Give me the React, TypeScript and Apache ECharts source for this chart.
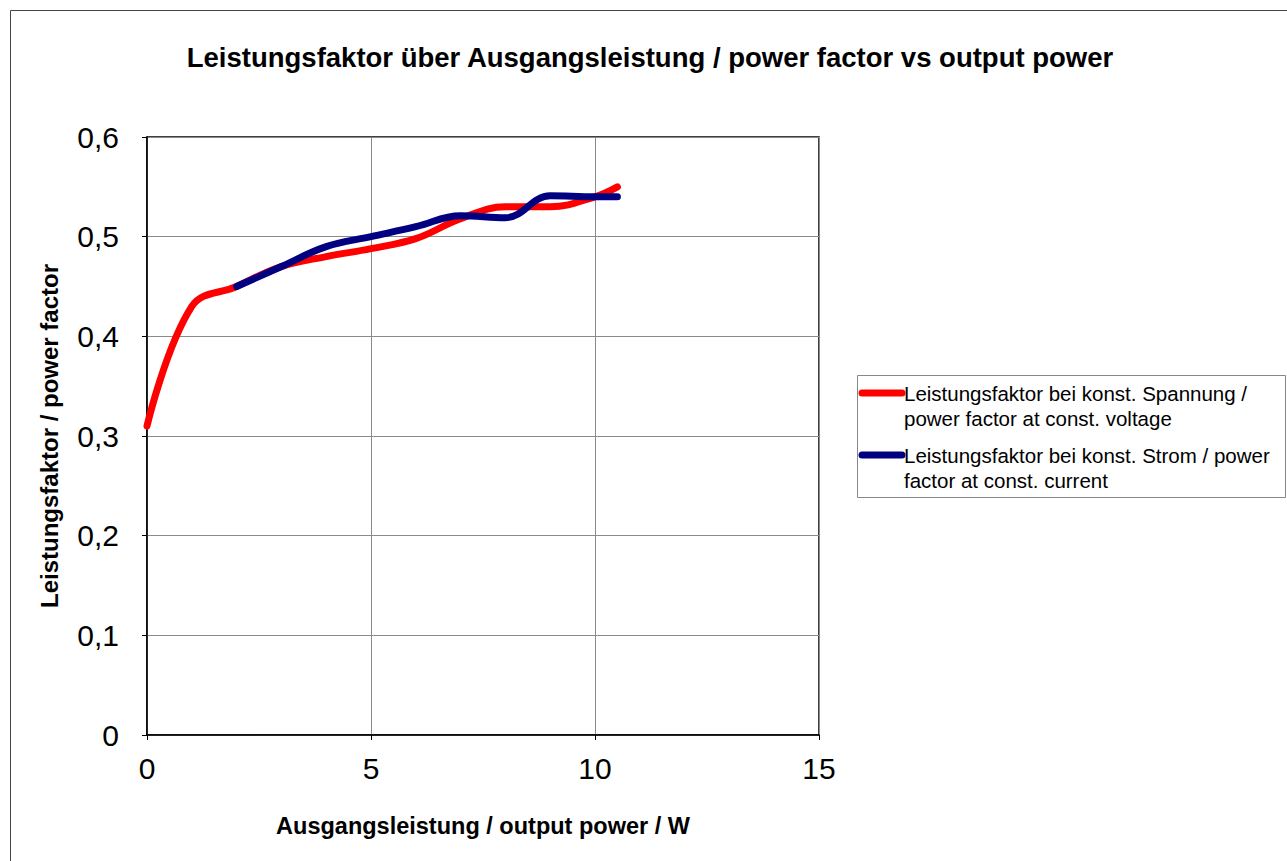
import React, { useEffect, useRef } from "react";
import * as echarts from "echarts";

const titleText = "Leistungsfaktor über Ausgangsleistung / power factor vs output power";
const xAxisName = "Ausgangsleistung / output power / W";
const yAxisName = "Leistungsfaktor / power factor";

const voltageX = [0, 1, 2, 3, 4, 5, 6, 7, 8, 9, 10, 10.5];
const voltageY = [0.31, 0.43, 0.45, 0.47, 0.48, 0.488, 0.498, 0.518, 0.53, 0.53, 0.54, 0.55];
const currentX = [2, 3, 4, 5, 6, 7, 8, 9, 10, 10.5];
const currentY = [0.45, 0.47, 0.49, 0.5, 0.51, 0.521, 0.519, 0.541, 0.54, 0.54];

const legendVoltage = ["Leistungsfaktor bei konst. Spannung /", "power factor at const. voltage"];
const legendCurrent = ["Leistungsfaktor bei konst. Strom / power", "factor at const. current"];

const FONT = "'Liberation Sans', Arial, sans-serif";

export default function App() {
  const ref = useRef<HTMLDivElement>(null);
  useEffect(() => {
    if (!ref.current) return;
    const chart = echarts.init(ref.current, undefined, { renderer: "svg" });
    const pair = (xs: number[], ys: number[]) => xs.map((x, i) => [x, ys[i]]);
    chart.setOption({
      animation: false,
      backgroundColor: "#fff",
      textStyle: { fontFamily: FONT },
      title: {
        text: titleText,
        left: 645,
        textAlign: "center",
        top: 38,
        textStyle: { fontFamily: FONT, fontSize: 27.5, fontWeight: "bold", color: "#000" },
      },
      grid: {
        left: 147,
        top: 137,
        width: 672,
        height: 598,
        show: true,
        borderColor: "#000",
        borderWidth: 1.5,
        containLabel: false,
      },
      xAxis: {
        type: "value",
        min: 0,
        max: 15,
        interval: 5,
        name: xAxisName,
        nameLocation: "middle",
        nameGap: 79,
        nameTextStyle: { fontFamily: FONT, fontSize: 23.5, fontWeight: "bold", color: "#000" },
        axisLine: { show: true, lineStyle: { color: "#000", width: 1.5 } },
        axisTick: { show: true, length: 5, lineStyle: { color: "#000" } },
        axisLabel: { fontFamily: FONT, fontSize: 30, color: "#000", margin: 18 },
        splitLine: { show: true, lineStyle: { color: "#8a8a8a", width: 1 } },
      },
      yAxis: {
        type: "value",
        min: 0,
        max: 0.6,
        interval: 0.1,
        name: yAxisName,
        nameLocation: "middle",
        nameGap: 86,
        nameTextStyle: { fontFamily: FONT, fontSize: 24, fontWeight: "bold", color: "#000" },
        axisLine: { show: true, lineStyle: { color: "#000", width: 1.5 } },
        axisTick: { show: true, length: 5, lineStyle: { color: "#000" } },
        axisLabel: {
          fontFamily: FONT,
          fontSize: 30,
          color: "#000",
          margin: 28,
          formatter: (v: number) => (Math.round(v * 10) / 10).toString().replace(".", ","),
        },
        splitLine: { show: true, lineStyle: { color: "#8a8a8a", width: 1 } },
      },
      series: [
        {
          name: legendVoltage.join(" "),
          type: "line",
          data: pair(voltageX, voltageY),
          smooth: 0.4,
          showSymbol: false,
          symbol: "none",
          lineStyle: { color: "#ff0000", width: 7, cap: "round" },
          itemStyle: { color: "#ff0000" },
        },
        {
          name: legendCurrent.join(" "),
          type: "line",
          data: pair(currentX, currentY),
          smooth: 0.4,
          showSymbol: false,
          symbol: "none",
          lineStyle: { color: "#000080", width: 7, cap: "round" },
          itemStyle: { color: "#000080" },
        },
      ],
      graphic: [
        {
          type: "rect",
          shape: { x: 10.5, y: 10.5, width: 1400, height: 1000 },
          style: { fill: "none", stroke: "#444", lineWidth: 1 },
          silent: true,
        },
        {
          type: "rect",
          shape: { x: 857.5, y: 375.5, width: 428, height: 122 },
          style: { fill: "#fff", stroke: "#888", lineWidth: 1 },
          silent: true,
        },
        {
          type: "line",
          shape: { x1: 862, y1: 393, x2: 902, y2: 393 },
          style: { stroke: "#ff0000", lineWidth: 7, lineCap: "round" },
        },
        {
          type: "text",
          x: 904,
          y: 393,
          style: {
            text: legendVoltage.join("\n"),
            fontFamily: FONT,
            fontSize: 20.5,
            lineHeight: 25,
            fill: "#000",
            verticalAlign: "top",
            y: -12.5,
          },
        },
        {
          type: "line",
          shape: { x1: 862, y1: 455, x2: 902, y2: 455 },
          style: { stroke: "#000080", lineWidth: 7, lineCap: "round" },
        },
        {
          type: "text",
          x: 904,
          y: 455,
          style: {
            text: legendCurrent.join("\n"),
            fontFamily: FONT,
            fontSize: 20.5,
            lineHeight: 25,
            fill: "#000",
            verticalAlign: "top",
            y: -12.5,
          },
        },
      ],
    });
    return () => chart.dispose();
  }, []);
  return (
    <div
      ref={ref}
      style={{ position: "fixed", left: 0, top: 0, width: 1287, height: 861 }}
    />
  );
}
